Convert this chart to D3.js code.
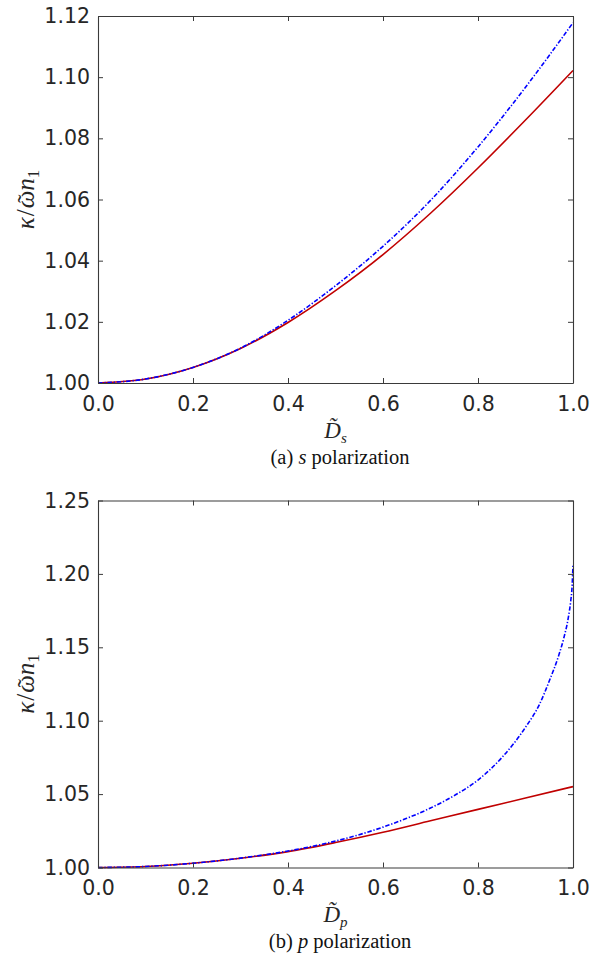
<!DOCTYPE html>
<html>
<head>
<meta charset="utf-8">
<script src="https://cdn.jsdelivr.net/npm/d3@7"></script>
<style>
  html, body { margin: 0; padding: 0; background: #fff; }
  svg { display: block; }
</style>
</head>
<body>
<svg id="chart" width="603" height="958"></svg>
<script>
// Normalised thickness values (shared x grid for each panel)
const dS = [0, 0.1, 0.2, 0.3, 0.4, 0.5, 0.6, 0.7, 0.8, 0.9, 1.0];
// s polarization: exact (solid red) and approximation (dash-dot blue)
const sExact  = [1.0, 1.0013, 1.0051, 1.0113, 1.0198, 1.0302, 1.0420, 1.0555, 1.0703, 1.0860, 1.1022];
const sApprox = [1.0, 1.0013, 1.0051, 1.0114, 1.0205, 1.0318, 1.0447, 1.0597, 1.0772, 1.0967, 1.1178];

// p polarization
const dPExact = [0, 0.1, 0.2, 0.3, 0.4, 0.5, 0.6, 0.7, 0.8, 0.9, 1.0];
const pExact  = [1.0, 1.0007, 1.0029, 1.0063, 1.0108, 1.0170, 1.0240, 1.0318, 1.0396, 1.0473, 1.0551];
const dPApprox = [0, 0.1, 0.2, 0.3, 0.4, 0.5, 0.6, 0.65, 0.7, 0.75, 0.8, 0.85, 0.9, 0.93, 0.95, 0.97, 0.98, 0.99, 0.995, 0.998, 1.0];
const pApprox  = [1.0, 1.0007, 1.0029, 1.0064, 1.0112, 1.0180, 1.0275, 1.0335, 1.0405, 1.0490, 1.0596, 1.0748, 1.0955, 1.1115, 1.1270, 1.1445, 1.1555, 1.1700, 1.1810, 1.1910, 1.2060];

const xTicks = [0, 0.2, 0.4, 0.6, 0.8, 1.0];
const yTicksS = [1.00, 1.02, 1.04, 1.06, 1.08, 1.10, 1.12];
const yTicksP = [1.00, 1.05, 1.10, 1.15, 1.20, 1.25];

const panels = [
  { top: 16, bottom: 383, yDomain: [1.0, 1.12], yTicks: yTicksS,
    exact: { x: dS, y: sExact }, approx: { x: dS, y: sApprox },
    sub: "s", letter: "(a)", pol: "s", labelY: 438, captionY: 464 },
  { top: 500.5, bottom: 867.5, yDomain: [1.0, 1.25], yTicks: yTicksP,
    exact: { x: dPExact, y: pExact }, approx: { x: dPApprox, y: pApprox },
    sub: "p", letter: "(b)", pol: "p", labelY: 922, captionY: 948 }
];

const left = 98, right = 573, tickLen = 5;
const svg = d3.select("#chart");
const tickFont = "DejaVu Sans, sans-serif";
const tickColor = "#262626";
const serif = "Liberation Serif, Times New Roman, serif";

// Lays out a run of text pieces on one baseline inside a group, centred at 0
function richLabel(parent, pieces, size) {
  const grp = parent.append("g");
  let xpos = 0;
  const nodes = pieces.map(pc => {
    const fs = pc.size || size;
    const t = grp.append("text")
      .attr("x", xpos)
      .attr("y", pc.dy || 0)
      .attr("font-family", serif)
      .attr("font-size", fs)
      .attr("font-style", pc.italic ? "italic" : "normal")
      .attr("fill", tickColor)
      .text(pc.t);
    const w = t.node().getComputedTextLength();
    const node = { t, x: xpos, w, pc };
    xpos += w + (pc.kern || 0);
    return node;
  });
  const shift = -xpos / 2;
  nodes.forEach(n => {
    n.t.attr("x", n.x + shift);
    if (n.pc.tilde) {
      grp.append("text")
        .attr("x", n.x + shift + n.w / 2 + (n.pc.tildeShift || 0))
        .attr("y", n.pc.tildeY || 0)
        .attr("text-anchor", "middle")
        .attr("font-family", serif)
        .attr("font-size", n.pc.size || size)
        .attr("fill", tickColor)
        .text("\u02DC");
    }
  });
  return grp;
}

panels.forEach(p => {
  const x = d3.scaleLinear().domain([0, 1]).range([left, right]);
  const y = d3.scaleLinear().domain(p.yDomain).range([p.bottom, p.top]);
  const g = svg.append("g");

  // Curves
  const line = d3.line().x(d => x(d[0])).y(d => y(d[1])).curve(d3.curveMonotoneX);
  g.append("path")
    .datum(d3.zip(p.exact.x, p.exact.y))
    .attr("d", line)
    .attr("fill", "none")
    .attr("stroke", "#c00000")
    .attr("stroke-width", 1.6);
  g.append("path")
    .datum(d3.zip(p.approx.x, p.approx.y))
    .attr("d", line)
    .attr("fill", "none")
    .attr("stroke", "#0000ff")
    .attr("stroke-width", 1.6)
    .attr("stroke-dasharray", "4.5,1.8,1.3,1.8");

  // Axes with inward ticks on all four sides
  const axL = d3.axisLeft(y).tickValues(p.yTicks).tickFormat(d3.format(".2f")).tickSizeInner(-tickLen).tickSizeOuter(0).tickPadding(8);
  const axR = d3.axisRight(y).tickValues(p.yTicks).tickFormat("").tickSizeInner(-tickLen).tickSizeOuter(0);
  const axB = d3.axisBottom(x).tickValues(xTicks).tickFormat(d3.format(".1f")).tickSizeInner(-tickLen).tickSizeOuter(0).tickPadding(13);
  const axT = d3.axisTop(x).tickValues(xTicks).tickFormat("").tickSizeInner(-tickLen).tickSizeOuter(0);

  const gl = g.append("g").attr("transform", `translate(${left},0)`).call(axL);
  const gr = g.append("g").attr("transform", `translate(${right},0)`).call(axR);
  const gb = g.append("g").attr("transform", `translate(0,${p.bottom})`).call(axB);
  const gt = g.append("g").attr("transform", `translate(0,${p.top})`).call(axT);

  [gl, gr, gb, gt].forEach(a => {
    a.select(".domain").attr("stroke", "#3a3a3a").attr("stroke-width", 1.1);
    a.selectAll(".tick line").attr("stroke", "#3a3a3a").attr("stroke-width", 1);
    a.selectAll(".tick text")
      .attr("font-family", tickFont)
      .attr("font-size", 20.5)
      .attr("fill", tickColor);
  });
  gb.selectAll(".tick text").attr("dy", "0.71em");

  // Y axis label: kappa / (omega-tilde n_1)
  const ylHolder = g.append("g")
    .attr("transform", `translate(34,${(p.top + p.bottom) / 2}) rotate(-90)`);
  richLabel(ylHolder, [
    { t: "\u03BA", italic: true, kern: 1 },
    { t: "/", italic: false, kern: 1 },
    { t: "\u03C9", italic: true, tilde: true, tildeShift: 1, tildeY: 1 },
    { t: "n", italic: true },
    { t: "1", size: 17, dy: 5 }
  ], 25);

  // X axis label: D-tilde with subscript
  const xl = g.append("text")
    .attr("x", (left + right) / 2)
    .attr("y", p.labelY)
    .attr("text-anchor", "middle")
    .attr("font-family", serif)
    .attr("font-size", 23)
    .attr("font-style", "italic")
    .attr("fill", tickColor);
  xl.append("tspan").text("D\u0303");
  xl.append("tspan").attr("font-size", 15).attr("dy", 5).text(p.sub);

  // Panel caption
  const cap = g.append("text")
    .attr("x", 340)
    .attr("y", p.captionY)
    .attr("text-anchor", "middle")
    .attr("font-family", serif)
    .attr("font-size", 20.5)
    .attr("fill", "#111");
  cap.append("tspan").text(p.letter + " ");
  cap.append("tspan").attr("font-style", "italic").text(p.pol);
  cap.append("tspan").text(" polarization");
});
</script>
</body>
</html>
